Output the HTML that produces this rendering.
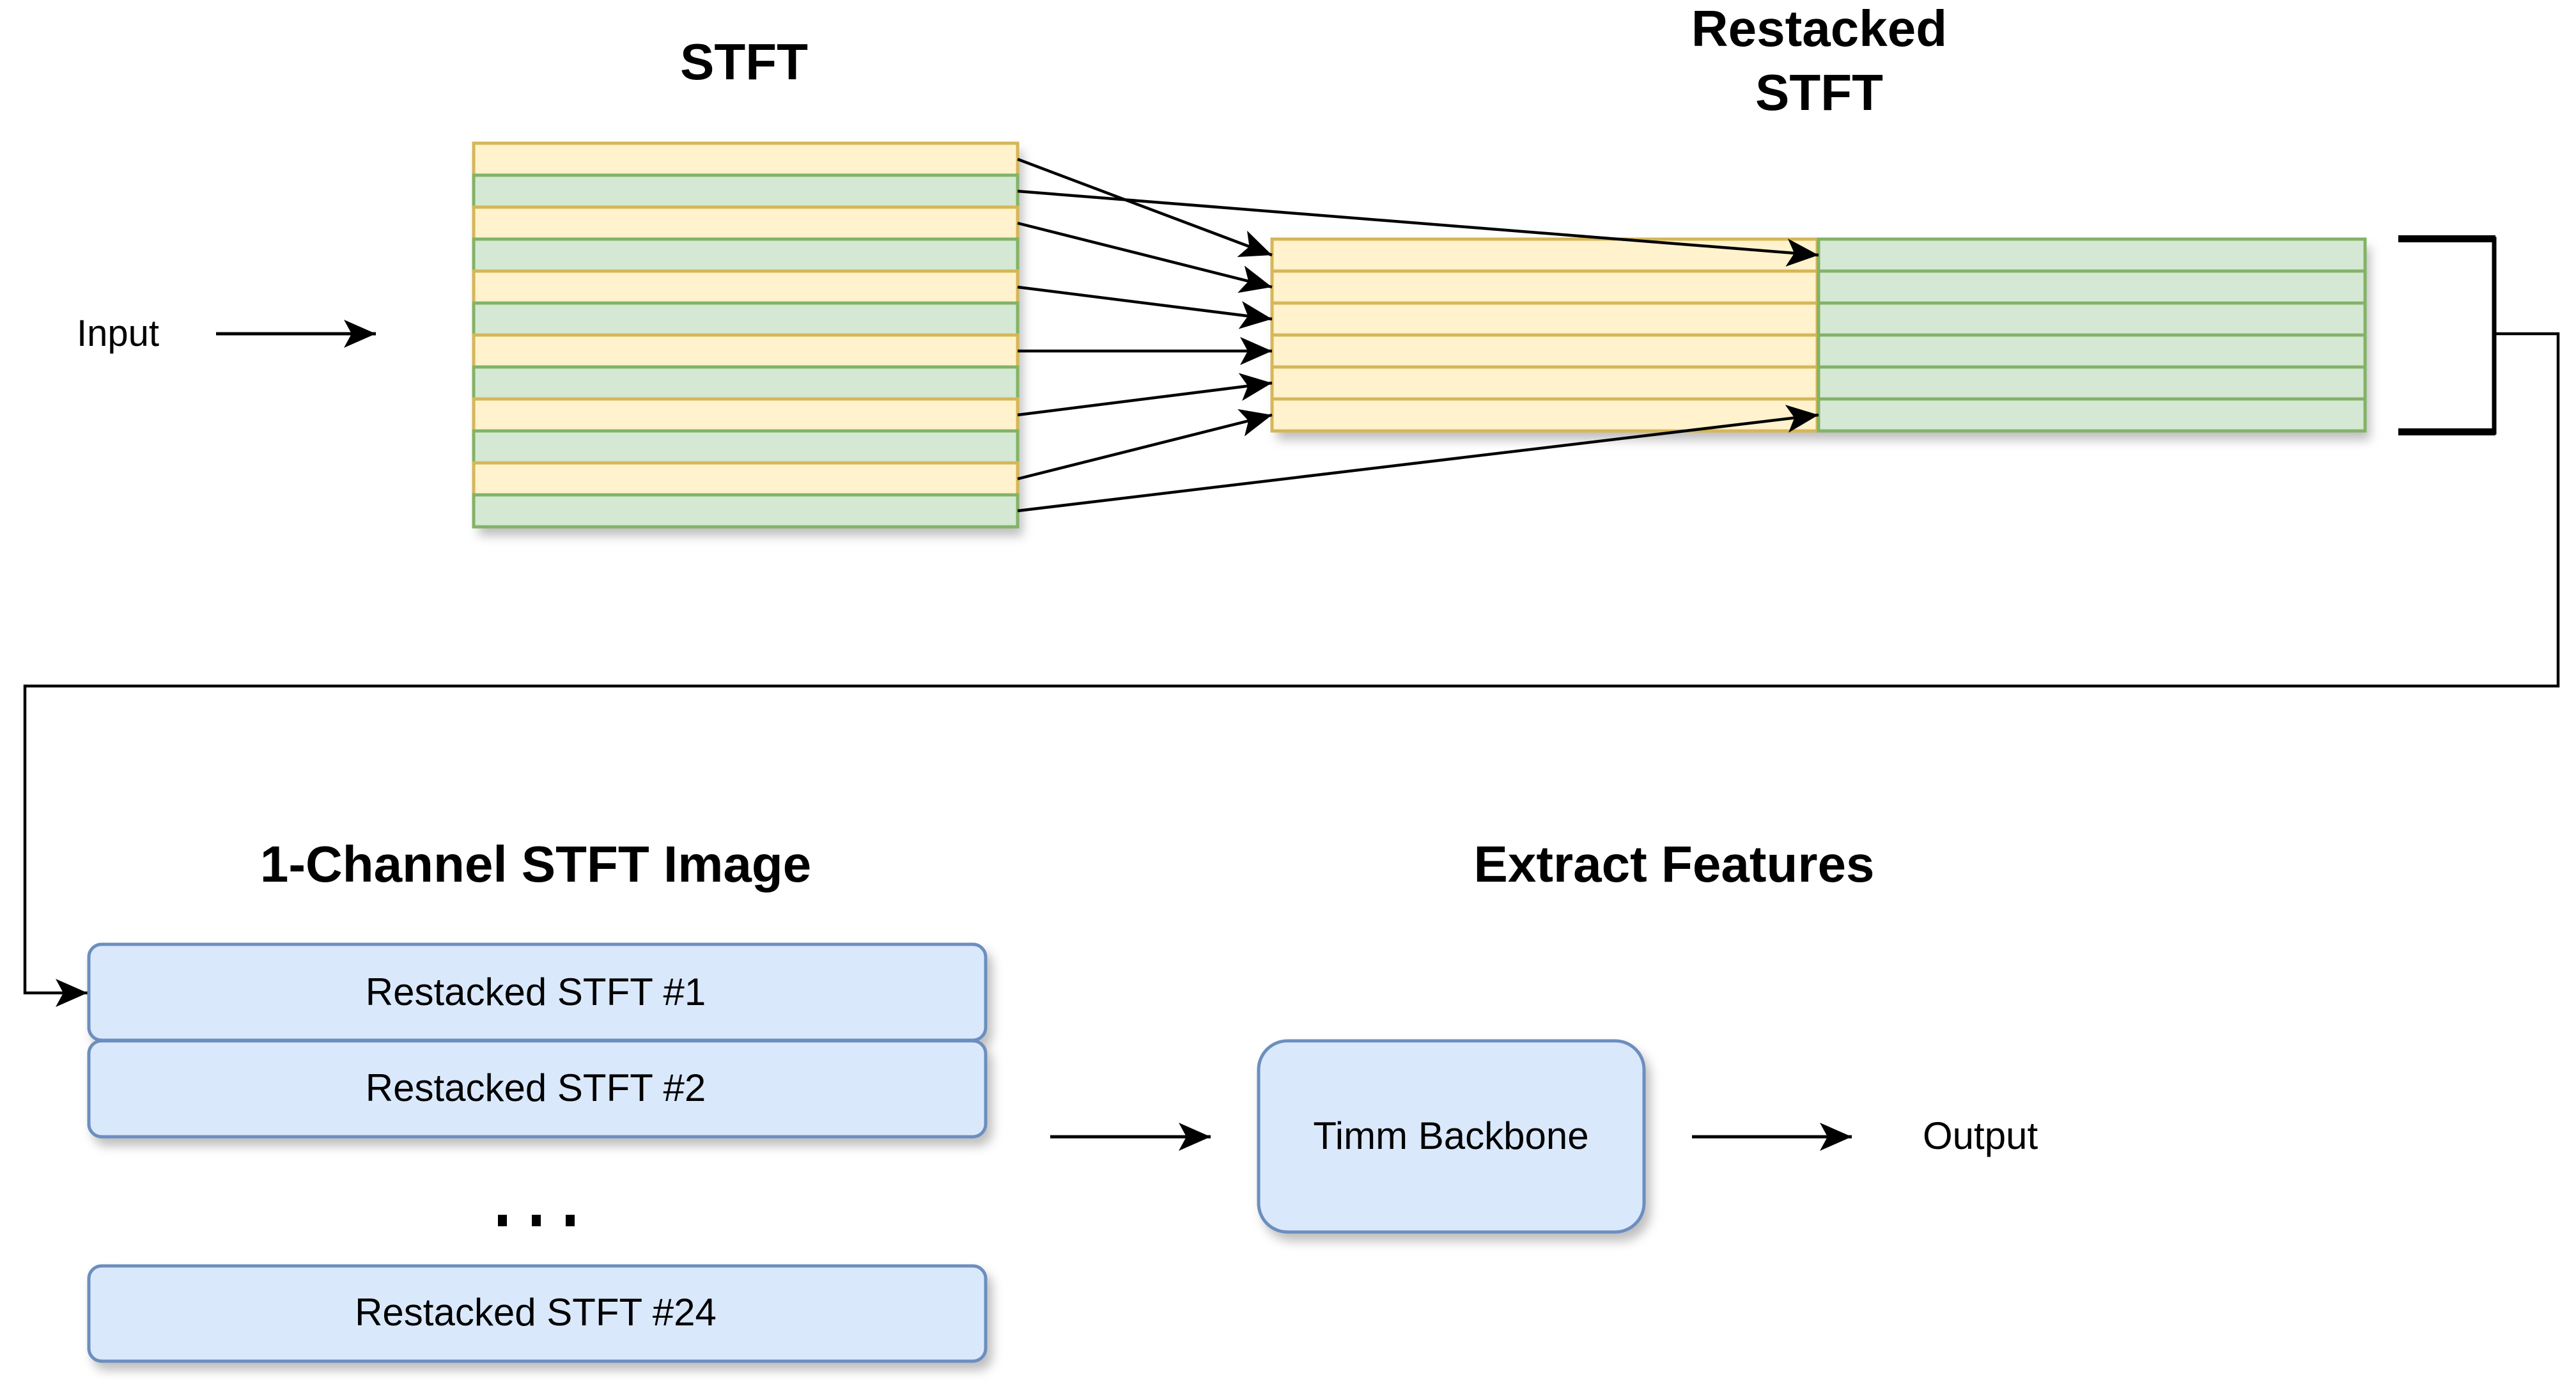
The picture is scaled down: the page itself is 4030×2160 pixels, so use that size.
<!DOCTYPE html>
<html><head><meta charset="utf-8"><style>
html,body{margin:0;padding:0;background:#fff;}
svg{display:block;}
text{font-family:"Liberation Sans",Arial,sans-serif;}
</style></head><body>
<svg width="4030" height="2160" viewBox="0 0 4030 2160" xmlns="http://www.w3.org/2000/svg">
<defs>
<marker id="ah" markerUnits="userSpaceOnUse" markerWidth="60" markerHeight="50" refX="50" refY="22" orient="auto">
<path d="M50,22 L0,0 L12,22 L0,44 Z" fill="#000"/>
</marker>
<filter id="sh" x="-10%" y="-10%" width="130%" height="140%">
<feDropShadow dx="8" dy="12" stdDeviation="8" flood-color="#000" flood-opacity="0.25"/>
</filter>
</defs>

<text x="1164" y="124" font-size="80" font-weight="bold" text-anchor="middle">STFT</text>
<text x="2846" y="72" font-size="80" font-weight="bold" text-anchor="middle">Restacked</text>
<text x="2846" y="172" font-size="80" font-weight="bold" text-anchor="middle">STFT</text>
<text x="120" y="541" font-size="58">Input</text>
<line x1="338" y1="522" x2="588" y2="522" stroke="#000" stroke-width="5" marker-end="url(#ah)"/>

<g filter="url(#sh)">
<rect x="741" y="224" width="851" height="602" fill="#fff"/>
</g>
<g stroke-width="5">
<rect x="741" y="224" width="851" height="50" fill="#fff2cc" stroke="#d6b656"/>
<rect x="741" y="274" width="851" height="50" fill="#d5e8d4" stroke="#82b366"/>
<rect x="741" y="324" width="851" height="50" fill="#fff2cc" stroke="#d6b656"/>
<rect x="741" y="374" width="851" height="50" fill="#d5e8d4" stroke="#82b366"/>
<rect x="741" y="424" width="851" height="50" fill="#fff2cc" stroke="#d6b656"/>
<rect x="741" y="474" width="851" height="50" fill="#d5e8d4" stroke="#82b366"/>
<rect x="741" y="524" width="851" height="50" fill="#fff2cc" stroke="#d6b656"/>
<rect x="741" y="574" width="851" height="50" fill="#d5e8d4" stroke="#82b366"/>
<rect x="741" y="624" width="851" height="50" fill="#fff2cc" stroke="#d6b656"/>
<rect x="741" y="674" width="851" height="50" fill="#d5e8d4" stroke="#82b366"/>
<rect x="741" y="724" width="851" height="50" fill="#fff2cc" stroke="#d6b656"/>
<rect x="741" y="774" width="851" height="50" fill="#d5e8d4" stroke="#82b366"/>
</g>

<g filter="url(#sh)">
<rect x="1990" y="374" width="1710" height="302" fill="#fff"/>
</g>
<g stroke-width="5">
<rect x="1990" y="374" width="853" height="50" fill="#fff2cc" stroke="#d6b656"/>
<rect x="1990" y="424" width="853" height="50" fill="#fff2cc" stroke="#d6b656"/>
<rect x="1990" y="474" width="853" height="50" fill="#fff2cc" stroke="#d6b656"/>
<rect x="1990" y="524" width="853" height="50" fill="#fff2cc" stroke="#d6b656"/>
<rect x="1990" y="574" width="853" height="50" fill="#fff2cc" stroke="#d6b656"/>
<rect x="1990" y="624" width="853" height="50" fill="#fff2cc" stroke="#d6b656"/>
<rect x="2845" y="374" width="855" height="50" fill="#d5e8d4" stroke="#82b366"/>
<rect x="2845" y="424" width="855" height="50" fill="#d5e8d4" stroke="#82b366"/>
<rect x="2845" y="474" width="855" height="50" fill="#d5e8d4" stroke="#82b366"/>
<rect x="2845" y="524" width="855" height="50" fill="#d5e8d4" stroke="#82b366"/>
<rect x="2845" y="574" width="855" height="50" fill="#d5e8d4" stroke="#82b366"/>
<rect x="2845" y="624" width="855" height="50" fill="#d5e8d4" stroke="#82b366"/>
</g>

<g stroke="#000" stroke-width="4.5" fill="none">
<line x1="1592" y1="249" x2="1990" y2="399" marker-end="url(#ah)"/>
<line x1="1592" y1="299" x2="2845" y2="399" marker-end="url(#ah)"/>
<line x1="1592" y1="349" x2="1990" y2="449" marker-end="url(#ah)"/>
<line x1="1592" y1="449" x2="1990" y2="499" marker-end="url(#ah)"/>
<line x1="1592" y1="549" x2="1990" y2="549" marker-end="url(#ah)"/>
<line x1="1592" y1="649" x2="1990" y2="599" marker-end="url(#ah)"/>
<line x1="1592" y1="749" x2="1990" y2="649" marker-end="url(#ah)"/>
<line x1="1592" y1="799" x2="2845" y2="649" marker-end="url(#ah)"/>
</g>

<path d="M3752,374 L3902,374 L3902,676 L3752,676" fill="none" stroke="#000" stroke-width="7"/>
<rect x="3752" y="368" width="152" height="11" fill="#000"/>
<rect x="3752" y="670" width="152" height="11" fill="#000"/>
<polyline points="3904,522 4002,522 4002,1073 39,1073 39,1553 137,1553" fill="none" stroke="#000" stroke-width="4.5" marker-end="url(#ah)"/>

<text x="838" y="1379" font-size="80" font-weight="bold" text-anchor="middle">1-Channel STFT Image</text>
<text x="2619" y="1379" font-size="80" font-weight="bold" text-anchor="middle">Extract Features</text>

<g fill="#dae8fc" stroke="#6c8ebf" stroke-width="5" filter="url(#sh)">
<rect x="139" y="1477" width="1403" height="150" rx="20"/>
<rect x="139" y="1628" width="1403" height="150" rx="20"/>
<rect x="139" y="1980" width="1403" height="149" rx="20"/>
<rect x="1969" y="1628" width="603" height="299" rx="45"/>
</g>
<g font-size="60" text-anchor="middle">
<text x="838" y="1572">Restacked STFT #1</text>
<text x="838" y="1722">Restacked STFT #2</text>
<text x="838" y="2073">Restacked STFT #24</text>
<text x="2270" y="1797">Timm Backbone</text>
<text x="3008" y="1797" text-anchor="start">Output</text>
</g>
<g fill="#000">
<rect x="779" y="1900" width="14" height="18"/>
<rect x="832" y="1900" width="14" height="18"/>
<rect x="885" y="1900" width="14" height="18"/>
</g>
<line x1="1643" y1="1778" x2="1894" y2="1778" stroke="#000" stroke-width="5" marker-end="url(#ah)"/>
<line x1="2647" y1="1778" x2="2897" y2="1778" stroke="#000" stroke-width="5" marker-end="url(#ah)"/>
</svg>
</body></html>
